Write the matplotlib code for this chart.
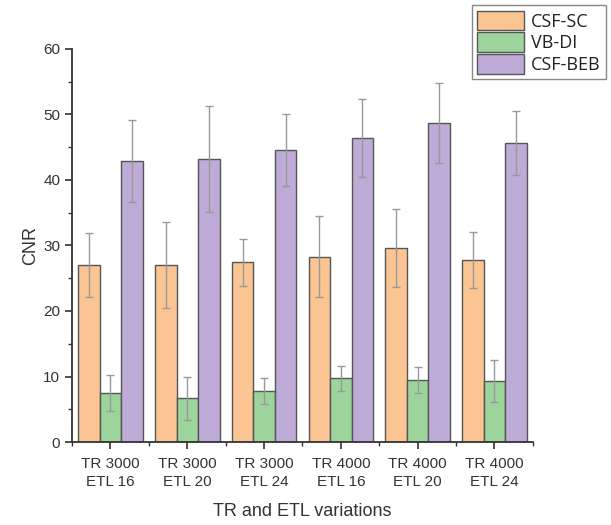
import numpy as np
import matplotlib
matplotlib.use("Agg")
from matplotlib import pyplot as plt
from matplotlib.ticker import MultipleLocator

plt.rcParams['font.family'] = ['Liberation Sans', 'DejaVu Sans']

groups = ['TR 3000\nETL 16', 'TR 3000\nETL 20', 'TR 3000\nETL 24',
          'TR 4000\nETL 16', 'TR 4000\nETL 20', 'TR 4000\nETL 24']
series = ['CSF-SC', 'VB-DI', 'CSF-BEB']
csf_sc = [27.0, 27.0, 27.4, 28.3, 29.6, 27.8]
csf_sc_err = [4.9, 6.5, 3.6, 6.2, 6.0, 4.3]
vb_di = [7.5, 6.7, 7.8, 9.7, 9.5, 9.3]
vb_di_err = [2.8, 3.3, 2.0, 1.9, 2.0, 3.2]
csf_beb = [42.9, 43.2, 44.5, 46.4, 48.7, 45.6]
csf_beb_err = [6.2, 8.1, 5.5, 5.9, 6.1, 4.9]

colors = ['#FAC592', '#9DD49B', '#BEABD7']
values = [csf_sc, vb_di, csf_beb]
errors = [csf_sc_err, vb_di_err, csf_beb_err]

fig = plt.figure(figsize=(6.11, 5.25), dpi=100)
ax = fig.add_axes([0.118, 0.158, 0.754, 0.749])

x = np.arange(1, len(groups) + 1)
w = 0.28
for i, (vals, errs) in enumerate(zip(values, errors)):
    ax.bar(x + (i - 1) * w, vals, w, color=colors[i], edgecolor='#555555',
           linewidth=1.0, label=series[i], zorder=2)
    ax.errorbar(x + (i - 1) * w, vals, yerr=errs, fmt='none', ecolor='#999999',
                elinewidth=1.0, capsize=3, capthick=1.0, zorder=3)

ax.set_xlim(0.5, 6.5)
ax.set_ylim(0, 60)
ax.set_xticks(x)
ax.set_xticklabels(groups, fontsize=11, color='#333333', linespacing=1.35)
ax.xaxis.set_minor_locator(MultipleLocator(1, offset=0.5))
ax.yaxis.set_major_locator(MultipleLocator(10))
ax.yaxis.set_minor_locator(MultipleLocator(5))
ax.tick_params(axis='both', which='major', direction='out', length=5, width=1.2,
               color='#333333', labelcolor='#333333', labelsize=11)
ax.tick_params(axis='x', which='major', pad=6)
ax.tick_params(axis='both', which='minor', direction='out', length=3, width=1.0,
               color='#333333')
for s in ['top', 'right']:
    ax.spines[s].set_visible(False)
for s in ['left', 'bottom']:
    ax.spines[s].set_linewidth(1.3)
    ax.spines[s].set_color('#333333')

ax.set_ylabel('CNR', fontsize=13, color='#333333', labelpad=3)
ax.set_xlabel('TR and ETL variations', fontsize=13, color='#333333', labelpad=10)

leg = fig.legend(loc='upper left', bbox_to_anchor=(0.772, 0.99),
                 prop={'family': 'Open Sans', 'size': 13},
                 handlelength=2.6, handleheight=1.3, handletextpad=0.4,
                 labelspacing=0.1, borderpad=0.3, borderaxespad=0,
                 fancybox=False, framealpha=1, edgecolor='#888888')
for t in leg.get_texts():
    t.set_color('#222222')

fig.savefig('out.png', dpi=100)
